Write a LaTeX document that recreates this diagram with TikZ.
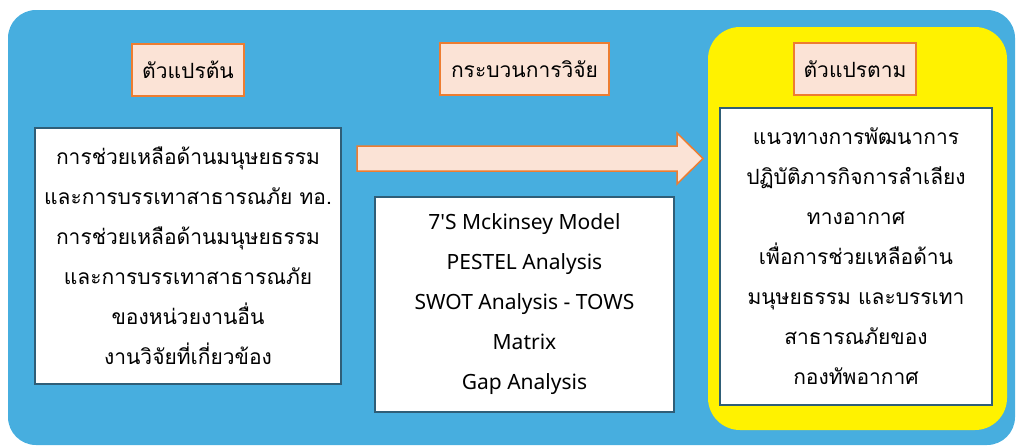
\documentclass[tikz,border=0pt]{standalone}
\usepackage{fontspec}
\setmainfont[Script=Thai]{Loma}
\newfontfamily\latinfont{Noto Sans}
\definecolor{panelblue}{HTML}{47AEDF}
\definecolor{peach}{HTML}{FBE3D6}
\definecolor{orangeline}{HTML}{ED7D31}
\definecolor{boxline}{HTML}{2F5E78}
\begin{document}
\begin{tikzpicture}[x=1pt,y=-1pt,
  headbox/.style={draw=orangeline,line width=1.5pt,fill=peach,minimum height=52pt,inner sep=0pt,font=\fontsize{21}{25}\selectfont},
  textbox/.style={draw=boxline,line width=1.2pt,fill=white,align=center,inner sep=0pt,font=\fontsize{21}{40}\selectfont}]
\useasboundingbox (0,0) rectangle (1016,445);
% background panels
\fill[panelblue,rounded corners=28pt] (8,10) rectangle (1015,445);
\fill[yellow,rounded corners=32pt] (708,27) rectangle (1007,430);
% headings
\node[headbox,minimum width=112pt] (indep) at (188,70) {ตัวแปรต้น};
\node[headbox,minimum width=169pt] (process) at (524.5,69) {กระบวนการวิจัย};
\node[headbox,minimum width=122pt] (dep) at (855,69) {ตัวแปรตาม};
% content boxes
\node[textbox,minimum width=306pt,minimum height=256pt] (inputs) at (188,256) {การช่วยเหลือด้านมนุษยธรรม\\และการบรรเทาสาธารณภัย ทอ.\\การช่วยเหลือด้านมนุษยธรรม\\และการบรรเทาสาธารณภัย\\ของหน่วยงานอื่น\\งานวิจัยที่เกี่ยวข้อง};
\node[textbox,minimum width=299pt,minimum height=215pt,font=\latinfont\fontsize{21}{40}\selectfont] (methods) at (524.5,304.5) {7'S Mckinsey Model\\PESTEL Analysis\\SWOT Analysis - TOWS\\Matrix\\Gap Analysis};
\node[textbox,minimum width=272pt,minimum height=297pt] (outputs) at (856,256.5) {แนวทางการพัฒนาการ\\ปฏิบัติภารกิจการลำเลียง\\ทางอากาศ\\เพื่อการช่วยเหลือด้าน\\มนุษยธรรม และบรรเทา\\สาธารณภัยของ\\กองทัพอากาศ};
% block arrow
\draw[orangeline,line width=1.5pt,fill=peach] (357,146) -- (677,146) -- (677,133) -- (703,158.5) -- (677,184) -- (677,171) -- (357,171) -- cycle;
\end{tikzpicture}
\end{document}
